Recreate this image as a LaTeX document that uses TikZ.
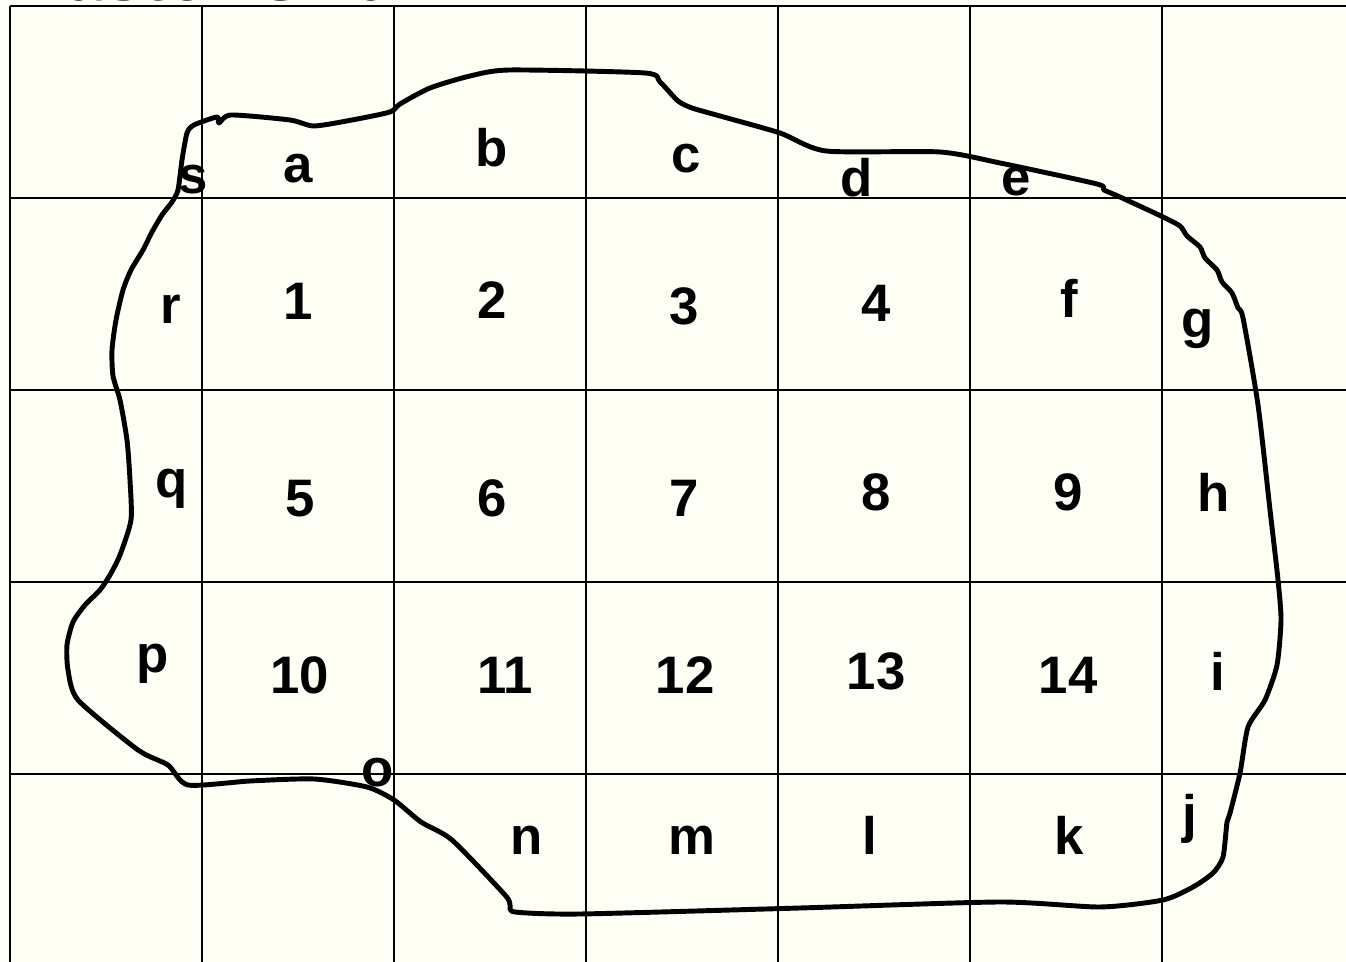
\documentclass[tikz,border=0pt]{standalone}
\usepackage{fontspec}
\setmainfont{Liberation Sans}
\usepackage{tikz}
\usetikzlibrary{calc}

\definecolor{paper}{HTML}{FEFEF4}

\begin{document}
\begin{tikzpicture}[x=0.01cm, y=-0.01cm,
    gridline/.style={line width=0.75pt},
    outline/.style={line width=1.4pt, line join=round},
    lbl/.style={anchor=base, inner sep=0pt, font=\fontsize{15}{18}\selectfont\bfseries}]
\useasboundingbox (0,0) rectangle (1346,962);
\fill[paper] (0,0) rectangle (1346,962);
% title, mostly above the page
\node[anchor=base west, inner sep=0pt, font=\fontsize{20}{24}\selectfont\bfseries] (title) at (14,1) {Raster Grid};
% Grid
\foreach \i in {0,...,6}
    \draw[gridline] ({10+192*\i},6) -- ({10+192*\i},970);
\foreach \j in {0,...,4}
    \draw[gridline] (10,{6+192*\j}) -- (1350,{6+192*\j});
% Polygon boundary
\draw[outline] plot[smooth cycle, tension=0.4] coordinates {
    (178,190) (182,160) (187,133) (194,125) (217,117) (219,123) (231,115)
    (290,120) (314,126) (352,120) (390,112) (400,104) (430,88) (470,76)
    (510,70) (645,73) (660,82) (678,101) (692,108) (720,116) (780,133)
    (826,151) (940,152) (1000,163) (1097,184) (1104,190) (1120,197)
    (1163,217) (1180,226) (1187,236) (1200,247) (1205,258) (1217,270)
    (1222,282) (1232,293) (1238,308) (1243,318) (1258,405) (1270,510)
    (1278,580) (1281,620) (1277,665) (1265,700) (1248,727) (1240,773)
    (1230,813) (1227,822) (1223,857) (1213,873) (1193,887) (1163,900)
    (1100,907) (1000,902) (800,908) (580,914) (515,912) (510,905)
    (505,895) (452,840) (421,822) (394,800) (367,787) (314,779) (250,781)
    (188,785) (168,765) (138,750) (78,700) (68,670) (67,645) (73,622)
    (85,605) (100,590) (110,575) (120,555) (131,520) (130,480) (127,440)
    (120,400) (113,376) (112,350) (116,320) (123,290) (131,270) (143,250)
    (152,232) (162,215) (172,202)};
% Boundary cells
\foreach \x/\y/\t in {193/194/s, 298/183/a, 492/167/b, 686/173/c, 857/197/d,
    1016/196/e, 1069/318/f, 1198/338/g, 1214/512/h, 1218/691/i, 1190/833/j,
    1069/855/k, 870/855/l, 692/855/m, 527/855/n, 378/787/o, 153/673/p,
    172/498/q, 171/324/r}
    \node[lbl] (cell-\t) at (\x,\y) {\t};
% Interior cells
\foreach \x/\y/\t in {298/320/1, 492/319/2, 684/325/3, 876/322/4,
    300/517/5, 492/517/6, 684/517/7, 876/511/8, 1068/511/9,
    300/694/10, 505/694/11, 685/694/12, 876/690/13, 1068/694/14}
    \node[lbl] (cell-\t) at (\x,\y) {\t};
\end{tikzpicture}
\end{document}
